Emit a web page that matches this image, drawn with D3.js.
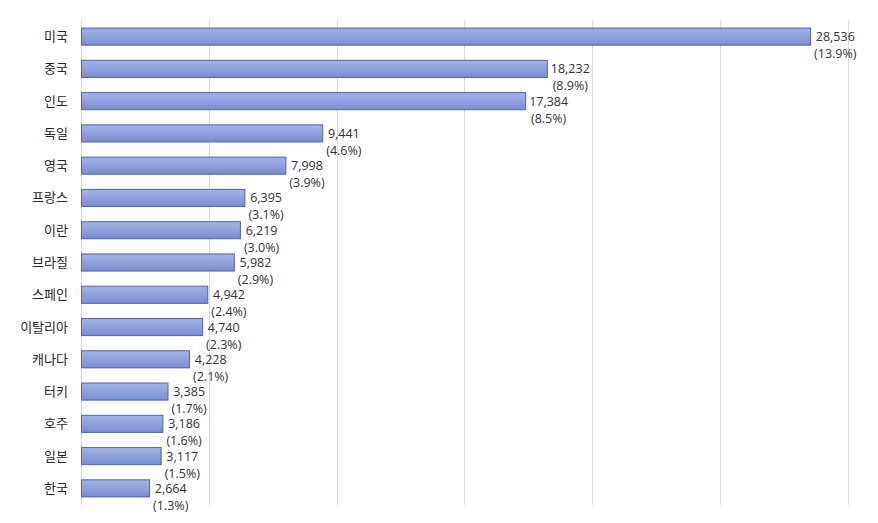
<!DOCTYPE html>
<html><head><meta charset="utf-8">
<script src="https://cdn.jsdelivr.net/npm/d3@7/dist/d3.min.js"></script>
<style>html,body{margin:0;padding:0;background:#fff;}svg{display:block;}</style>
</head><body>
<svg id="c" width="878" height="523"></svg>
<script>
const categories = ["미국","중국","인도","독일","영국","프랑스","이란","브라질","스페인","이탈리아","캐나다","터키","호주","일본","한국"];
const values = [28536,18232,17384,9441,7998,6395,6219,5982,4942,4740,4228,3385,3186,3117,2664];
const shares = ["13.9%","8.9%","8.5%","4.6%","3.9%","3.1%","3.0%","2.9%","2.4%","2.3%","2.1%","1.7%","1.6%","1.5%","1.3%"];
const xTicks = [0,5000,10000,15000,20000,25000,30000];

const svg = d3.select("#c");
const x = d3.scaleLinear().domain([0,30000]).range([81,847.5]);
const y = d3.scaleBand().domain(categories).range([20,505]).paddingInner(0.47).paddingOuter(0.25);

const defs = svg.append("defs");
const g = defs.append("linearGradient").attr("id","bg").attr("x1",0).attr("y1",0).attr("x2",0).attr("y2",1);
g.append("stop").attr("offset","0%").attr("stop-color","#a3b3e6");
g.append("stop").attr("offset","50%").attr("stop-color","#8fa2de");
g.append("stop").attr("offset","100%").attr("stop-color","#788cd0");

// gridlines
svg.append("g").selectAll("line").data(xTicks).join("line")
  .attr("x1",d=>Math.round(x(d))+0.5).attr("x2",d=>Math.round(x(d))+0.5)
  .attr("y1",20).attr("y2",505)
  .attr("stroke","#d9d9d9").attr("stroke-width",1);

// bars
svg.append("g").selectAll("rect").data(categories).join("rect")
  .attr("x",x(0)+0.5)
  .attr("y",d=>y(d))
  .attr("width",(d,i)=>x(values[i])-x(0))
  .attr("height",y.bandwidth())
  .attr("fill","url(#bg)")
  .attr("stroke","#52639f").attr("stroke-width",1);

// category labels
svg.append("g").selectAll("text").data(categories).join("text")
  .attr("x",68).attr("y",d=>y(d)+y.bandwidth()/2+4.5)
  .attr("text-anchor","end")
  .attr("font-family","'Noto Sans CJK KR', sans-serif")
  .attr("font-size",13).attr("fill","#262626")
  .text(d=>d);

// value labels
const lab = svg.append("g").attr("font-family","'Open Sans', 'Noto Sans CJK KR', sans-serif").attr("font-size",12.5).attr("fill","#333");
categories.forEach((c,i)=>{
  const cy = y(c)+y.bandwidth()/2;
  const t1 = lab.append("text").attr("y",cy+4.5).text(d3.format(",")(values[i]));
  const t2 = lab.append("text").attr("y",cy+21.5).text("("+shares[i]+")");
  const w = Math.max(t1.node().getComputedTextLength(), t2.node().getComputedTextLength());
  const cx = x(values[i]) + 4 + w/2;
  t1.attr("x",cx).attr("text-anchor","middle");
  t2.attr("x",cx).attr("text-anchor","middle");
});
</script>
</body></html>
